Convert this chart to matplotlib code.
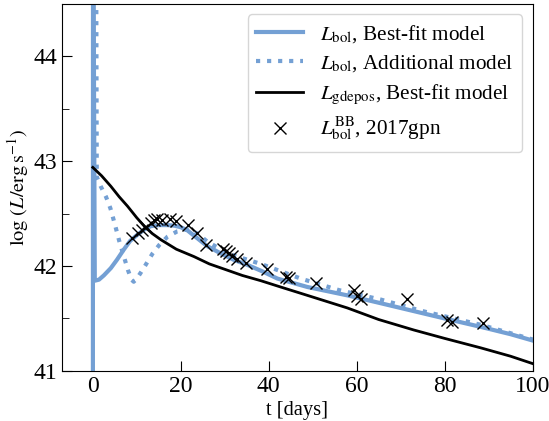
import matplotlib
matplotlib.use("Agg")
import matplotlib.pyplot as plt
from matplotlib.ticker import MultipleLocator

plt.rcParams['font.family'] = ['Liberation Serif', 'DejaVu Serif']
plt.rcParams['mathtext.fontset'] = 'stix'

# Best-fit model L_bol
t_best = [0.0, 0.05, 0.45, 1.4, 2.5, 4.1, 5.5, 7.1, 8.5, 10.2, 11.8, 13.2, 15.0, 17.0,
          18.5, 20.0, 21.5, 23.0, 24.5, 26.0, 29.1, 32.0, 35.2, 38.5, 42.0, 48.8, 57.9,
          65.0, 73.0, 80.0, 88.2, 95.0, 100.0]
L_best = [38.0, 46.0, 41.86, 41.87, 41.91, 41.98, 42.06, 42.16, 42.24, 42.30, 42.35, 42.38,
          42.39, 42.39, 42.385, 42.37, 42.34, 42.29, 42.24, 42.19, 42.12, 42.06, 42.01,
          41.95, 41.88, 41.80, 41.72, 41.65, 41.57, 41.50, 41.42, 41.35, 41.29]

# Additional model L_bol
t_add = [0.7, 0.9, 1.8, 3.0, 4.0, 5.0, 6.0, 7.0, 8.0, 8.8, 9.3, 10.0, 10.8, 12.0, 13.6,
         15.1, 17.0, 19.2, 21.5, 23.8, 26.1, 29.1, 32.1, 38.2, 47.3, 56.0, 65.5, 75.0,
         88.2, 100.0]
L_add = [46.0, 42.85, 42.76, 42.66, 42.55, 42.40, 42.24, 42.10, 41.96, 41.87, 41.85, 41.88,
         41.93, 42.01, 42.12, 42.20, 42.28, 42.33, 42.35, 42.31, 42.23, 42.16, 42.10,
         42.02, 41.88, 41.77, 41.68, 41.57, 41.44, 41.30]

# Best-fit model L_gdepos
t_gd = [0.0, 2.0, 4.1, 6.0, 7.9, 10.0, 11.7, 13.5, 15.5, 19.0, 23.0, 26.5, 30.6, 34.0,
        38.2, 42.7, 48.8, 57.9, 65.0, 73.0, 80.0, 88.2, 95.0, 100.0]
L_gd = [42.94, 42.86, 42.76, 42.66, 42.57, 42.46, 42.38, 42.31, 42.25, 42.16, 42.09, 42.02,
        41.96, 41.91, 41.86, 41.80, 41.72, 41.60, 41.49, 41.39, 41.31, 41.22, 41.14, 41.07]

# Observed 2017gpn blackbody L_bol
t_obs = [9.0, 10.2, 11.2, 12.0, 13.2, 13.9, 14.7, 15.8, 17.5, 18.9, 21.6, 23.8, 25.7,
         29.5, 30.2, 31.0, 31.7, 32.9, 34.8, 39.7, 43.9, 44.6, 50.7, 59.5, 60.0, 60.9,
         71.4, 80.6, 81.7, 88.8]
L_obs = [42.27, 42.31, 42.34, 42.37, 42.41, 42.44, 42.45, 42.44, 42.45, 42.43, 42.39,
         42.31, 42.20, 42.16, 42.14, 42.12, 42.10, 42.07, 42.03, 41.97, 41.90, 41.89,
         41.84, 41.77, 41.71, 41.69, 41.69, 41.49, 41.47, 41.46]

blue = '#74a0d4'

fig = plt.figure(figsize=(5.49, 4.21), dpi=100)
ax = fig.add_axes([0.113, 0.119, 0.857, 0.872])

ax.plot(t_best, L_best, color=blue, lw=3, solid_joinstyle='round',
        label=r'$L_{\mathrm{bol}}$, Best-fit model')
ax.plot(t_add, L_add, color=blue, lw=3, ls=':',
        label=r'$L_{\mathrm{bol}}$, Additional model')
ax.plot(t_gd, L_gd, color='black', lw=2,
        label=r'$L_{\mathrm{gdepos}}$, Best-fit model')
ax.plot(t_obs, L_obs, ls='none', marker='x', color='black', ms=8, mew=1,
        label=r'$L_{\mathrm{bol}}^{\mathrm{BB}}$, 2017gpn')

ax.set_xlim(-7, 100)
ax.set_ylim(41, 44.5)
ax.xaxis.set_major_locator(MultipleLocator(20))
ax.yaxis.set_major_locator(MultipleLocator(1))
ax.yaxis.set_minor_locator(MultipleLocator(0.5))
ax.tick_params(which='both', direction='in', labelsize=17)
ax.tick_params(which='major', length=7)
ax.tick_params(which='minor', length=5)
ax.set_xlabel('t [days]', fontsize=14.7, labelpad=3)
ax.set_ylabel(r'$\log\,(L/\mathrm{erg\,s^{-1}})$', fontsize=14.7, labelpad=2)

ax.legend(loc='upper right', fontsize=15.3, frameon=True, handlelength=2.2,
          labelspacing=0.4)

fig.savefig('out.png', dpi=100)
